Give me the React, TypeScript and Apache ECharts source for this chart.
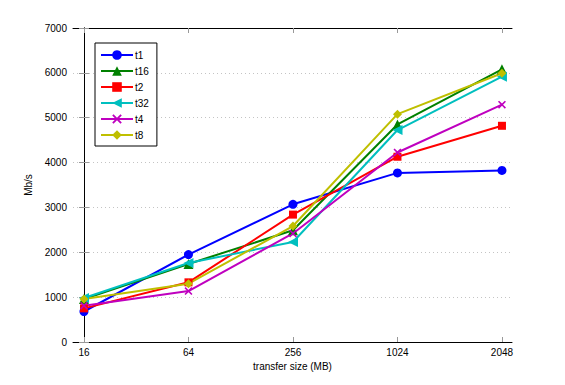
import React, { useEffect, useRef } from "react";
import * as echarts from "echarts";

const categories = ["16", "64", "256", "1024", "2048"];
const seriesNames = ["t1", "t16", "t2", "t32", "t4", "t8"];
const t1 = [680, 1950, 3070, 3770, 3825];
const t16 = [960, 1740, 2490, 4850, 6080];
const t2 = [750, 1330, 2840, 4130, 4820];
const t32 = [980, 1760, 2230, 4725, 5915];
const t4 = [810, 1136, 2420, 4225, 5290];
const t8 = [958, 1300, 2585, 5080, 5990];
const yTicks = [0, 1000, 2000, 3000, 4000, 5000, 6000, 7000];

const seriesValues = [t1, t16, t2, t32, t4, t8];
const colors = ["#0000FF", "#008000", "#FF0000", "#00BFBF", "#BF00BF", "#BFBF00"];
const xMarker = "path://M0,1.4L1.4,0L5,3.6L8.6,0L10,1.4L6.4,5L10,8.6L8.6,10L5,6.4L1.4,10L0,8.6L3.6,5Z";
const symbols = ["circle", "triangle", "rect", "triangle", xMarker, "diamond"];
const rotates = [0, 0, 0, 90, 0, 0];
const sizes = [9, 10, 8, 10, 8, 9];

const FONT = "Liberation Sans";

export default function App() {
  const ref = useRef<HTMLDivElement>(null);
  useEffect(() => {
    if (!ref.current) return;
    const chart = echarts.init(ref.current, undefined, { renderer: "svg" });
    const xIdx = categories.map((_, i) => i);
    chart.setOption({
      animation: false,
      backgroundColor: "#fff",
      textStyle: { fontFamily: FONT },
      grid: { left: 73, right: 53, top: 28, bottom: 43, show: false },
      legend: {
        orient: "vertical",
        left: 95,
        top: 43,
        data: seriesNames,
        backgroundColor: "#fff",
        borderColor: "#000",
        borderWidth: 1,
        borderRadius: 0,
        padding: [7, 8, 6, 5],
        itemWidth: 32,
        itemHeight: 12,
        itemGap: 6,
        textStyle: { fontFamily: FONT, fontSize: 10, color: "#000", padding: [0, 0, 0, -3] },
      },
      xAxis: [
        {
          type: "value",
          min: -0.105,
          max: 4.096,
          name: "transfer size (MB)",
          nameLocation: "middle",
          nameGap: 11,
          nameTextStyle: { fontFamily: FONT, fontSize: 10, color: "#000" },
          axisLine: { show: true, onZero: false, lineStyle: { color: "#000", width: 1 } },
          axisTick: { show: true, inside: true, length: 5, customValues: xIdx, lineStyle: { color: "#999" } },
          axisLabel: {
            customValues: xIdx,
            formatter: (v: number) => categories[Math.round(v)],
            fontSize: 10,
            color: "#000",
            fontFamily: FONT,
            margin: 5,
          },
          splitLine: { show: false },
        },
        {
          type: "value",
          position: "top",
          min: -0.105,
          max: 4.096,
          axisLine: { show: true, onZero: false, lineStyle: { color: "#000", width: 1 } },
          axisTick: { show: true, inside: true, length: 5, customValues: xIdx, lineStyle: { color: "#999" } },
          axisLabel: { show: false, customValues: xIdx },
          splitLine: { show: false },
        },
      ],
      yAxis: [
        {
          type: "value",
          min: 0,
          max: 7000,
          interval: 1000,
          name: "Mb/s",
          nameLocation: "middle",
          nameGap: 24,
          nameTextStyle: { fontFamily: FONT, fontSize: 10, color: "#000" },
          axisLine: { show: true, lineStyle: { color: "#000", width: 1 } },
          axisTick: { show: true, inside: true, length: 5, lineStyle: { color: "#999" } },
          axisLabel: {
            fontSize: 10,
            color: "#000",
            fontFamily: FONT,
            margin: 6,
            formatter: (v: number) => (yTicks.includes(v) ? String(v) : ""),
          },
          splitLine: { show: true, lineStyle: { color: "#c4c4c4", type: [1, 3], width: 1 } },
        },
        {
          type: "value",
          position: "right",
          min: 0,
          max: 7000,
          interval: 1000,
          axisLine: { show: true, lineStyle: { color: "#000", width: 1 } },
          axisTick: { show: true, inside: true, length: 5, lineStyle: { color: "#999" } },
          axisLabel: { show: false },
          splitLine: { show: false },
        },
      ],
      series: seriesNames.map((name, s) => ({
        name,
        type: "line",
        xAxisIndex: 0,
        yAxisIndex: 0,
        data: seriesValues[s].map((v, i) => [xIdx[i], v]),
        symbol: symbols[s],
        symbolRotate: rotates[s],
        symbolSize: sizes[s],
        showAllSymbol: true,
        color: colors[s],
        lineStyle: { width: 2, color: colors[s] },
        itemStyle: { color: colors[s], borderWidth: 0 },
        emphasis: { disabled: true },
      })),
    });
    return () => chart.dispose();
  }, []);
  return <div ref={ref} style={{ width: 565, height: 385, position: "absolute", left: 0, top: 0 }} />;
}
